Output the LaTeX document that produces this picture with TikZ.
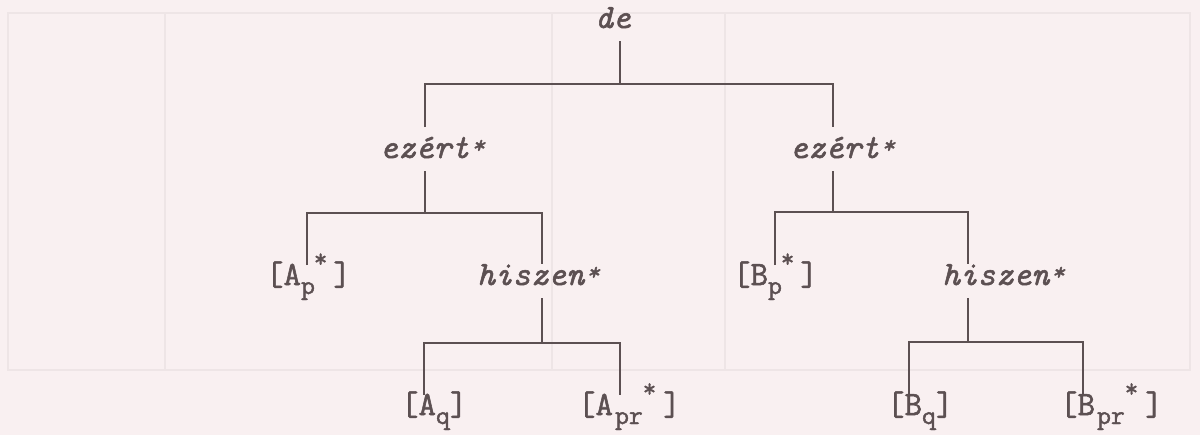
\documentclass[tikz,border=0pt]{standalone}
\usepackage{fontspec}
\setmonofont{Latin Modern Mono}[FakeBold=1.6]
\definecolor{bg}{HTML}{F9F0F1}
\definecolor{ink}{HTML}{5C5052}
\definecolor{faint}{HTML}{EEE5E6}
\newcommand\fs{\fontsize{17}{20}\selectfont\ttfamily}
\newcommand\sbx[1]{\raisebox{-4.5pt}{\fontsize{13.5}{13.5}\selectfont #1}}
\newcommand\spx{\raisebox{9pt}{\fontsize{13}{13}\selectfont *}}
\newcommand\wst{\makebox[0.525em][c]{\raisebox{2.5pt}{\fontsize{12.5}{12.5}\selectfont *}}}
\begin{document}
\begin{tikzpicture}[x=0.5pt,y=-0.5pt,
  every node/.style={inner sep=0pt,outer sep=0pt,text=ink,font=\fs},
  lab/.style={anchor=base west,text height=10pt,text depth=3pt},
  word/.style={anchor=base west,font=\fs\itshape,text height=10.5pt,text depth=6.5pt},
  tall/.style={text height=15.5pt},
  conn/.style={draw=ink,line width=0.75pt},
  ghost/.style={draw=faint,line width=1pt}]
\fill[bg] (0,0) rectangle (1200,435);
\useasboundingbox (0,0) rectangle (1200,435);
% faint show-through frame
\draw[ghost] (8,13) rectangle (1190,370);
\draw[ghost] (165,13) -- (165,370);
\draw[ghost] (552,13) -- (552,370);
\draw[ghost] (725,13) -- (725,370);
% nodes
\node[word] (de) at (595,28) {de};
\node[word,tall] (ezL) at (380,158) {ezért\wst};
\node[word,tall] (ezR) at (790,158) {ezért\wst};
\node[word] (hiL) at (477,285) {hiszen\wst};
\node[word] (hiR) at (942,285) {hiszen\wst};
\node[lab] (Ap) at (266,285) {[A\sbx{p}\kern-0.5pt\spx\kern3pt]};
\node[lab] (Bp) at (733,285) {[B\sbx{p}\kern-0.5pt\spx\kern3pt]};
\node[lab] (Aq) at (401,415) {[A\sbx{q}]};
\node[lab] (Apr) at (578,415) {[A\kern1pt\sbx{pr}\spx\kern3.5pt]};
\node[lab] (Bq) at (887,415) {[B\sbx{q}]};
\node[lab] (Bpr) at (1060,415) {[B\kern1pt\sbx{pr}\spx\kern3.5pt]};
% junctions
\coordinate (t0) at (620,84);
\coordinate (b0l) at (425,84);
\coordinate (b0r) at (833,84);
\coordinate (t1l) at (425,213);
\coordinate (b1la) at (307,213);
\coordinate (b1lb) at (542,213);
\coordinate (t1r) at (833,212);
\coordinate (b1ra) at (775,212);
\coordinate (b1rb) at (968,212);
\coordinate (t2l) at (542,343);
\coordinate (b2la) at (424,343);
\coordinate (b2lb) at (620,343);
\coordinate (t2r) at (968,342);
\coordinate (b2ra) at (909,342);
\coordinate (b2rb) at (1083,342);
% connectors
\draw[conn] (de.south -| t0) -- (t0);
\draw[conn] (ezL.north -| b0l) -- (b0l) -- (b0r) -- (ezR.north -| b0r);
\draw[conn] (ezL.south -| t1l) -- (t1l);
\draw[conn] (Ap.north -| b1la) -- (b1la) -- (b1lb) -- (hiL.north -| b1lb);
\draw[conn] (ezR.south -| t1r) -- (t1r);
\draw[conn] (Bp.north -| b1ra) -- (b1ra) -- (b1rb) -- (hiR.north -| b1rb);
\draw[conn] (hiL.south -| t2l) -- (t2l);
\draw[conn] (Aq.north -| b2la) -- (b2la) -- (b2lb) -- (Apr.north -| b2lb);
\draw[conn] (hiR.south -| t2r) -- (t2r);
\draw[conn] (Bq.north -| b2ra) -- (b2ra) -- (b2rb) -- (Bpr.north -| b2rb);
\end{tikzpicture}
\end{document}
